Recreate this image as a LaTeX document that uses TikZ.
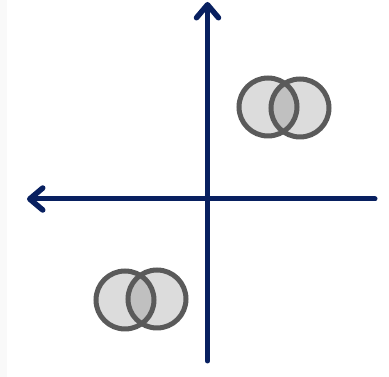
\documentclass[tikz,border=0pt]{standalone}
\usetikzlibrary{arrows.meta}

\definecolor{axisblue}{RGB}{8,32,96}
\definecolor{ringgray}{RGB}{90,90,90}
\definecolor{setfill}{RGB}{220,220,220}
\definecolor{capfill}{RGB}{192,192,192}

\tikzset{
	axis/.style = {axisblue, line width = 5pt, line cap = round, -{Straight Barb[length = 13pt, width = 22pt, line width = 5.5pt, line join = round, line cap = round]}},
	setdisc/.style = {circle, fill = setfill, minimum size = 58pt, inner sep = 0pt},
	ring/.style = {ringgray, line width = 5pt}
}

\begin{document}
\begin{tikzpicture}[x = 1pt, y = 1pt]
		\useasboundingbox [fill = white] (0, 0) rectangle (389, 377);
		\fill [gray!5] (0, 0) rectangle (7, 377);
		% axes
		\coordinate (origin) at (207.5, 178);
		\coordinate (top) at (207.5, 375);
		\coordinate (bottom) at (207.5, 16);
		\coordinate (left) at (27, 178);
		\coordinate (right) at (375, 178);
		\draw [axis] (bottom) -- (top);
		\draw [axis] (right) -- (left);
		% upper pair
		\node [setdisc] (upA) at (268, 270) {};
		\node [setdisc] (upB) at (300, 269) {};
		\begin{scope}
			\clip (upA.center) circle (29);
			\fill [capfill] (upB.center) circle (29);
		\end{scope}
		\draw [ring] (upA.center) circle (29);
		\draw [ring] (upB.center) circle (29);
		% lower pair
		\node [setdisc] (lowA) at (125, 77) {};
		\node [setdisc] (lowB) at (157, 78) {};
		\begin{scope}
			\clip (lowA.center) circle (29);
			\fill [capfill] (lowB.center) circle (29);
		\end{scope}
		\draw [ring] (lowA.center) circle (29);
		\draw [ring] (lowB.center) circle (29);
	\end{tikzpicture}
\end{document}
